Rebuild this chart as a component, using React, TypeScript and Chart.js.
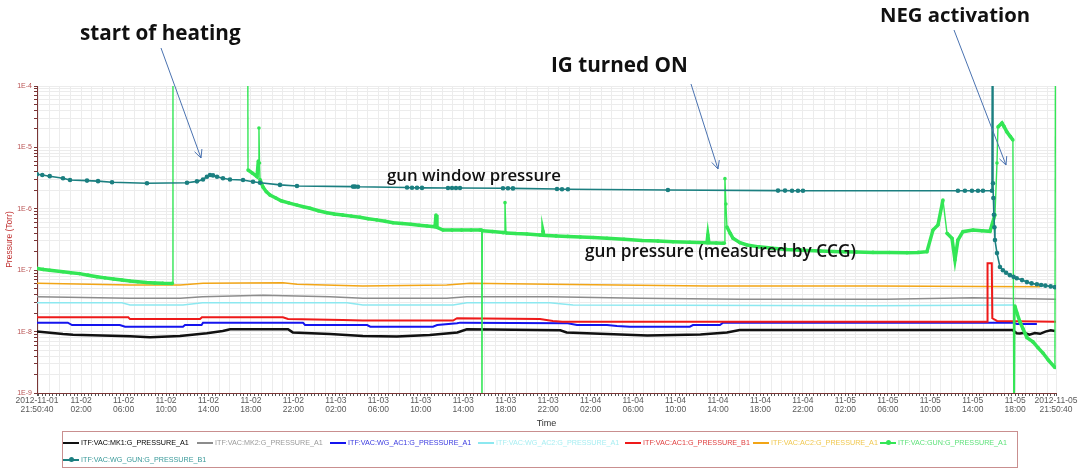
import React, { useEffect, useRef } from 'react';
import { Chart, registerables } from 'chart.js';

Chart.register(...registerables);

// ---------- axis labels ----------
const X_TICK_LABELS: string[][] = [
  ['2012-11-01', '21:50:40'],
  ['11-02', '02:00'], ['11-02', '06:00'], ['11-02', '10:00'], ['11-02', '14:00'], ['11-02', '18:00'], ['11-02', '22:00'],
  ['11-03', '02:00'], ['11-03', '06:00'], ['11-03', '10:00'], ['11-03', '14:00'], ['11-03', '18:00'], ['11-03', '22:00'],
  ['11-04', '02:00'], ['11-04', '06:00'], ['11-04', '10:00'], ['11-04', '14:00'], ['11-04', '18:00'], ['11-04', '22:00'],
  ['11-05', '02:00'], ['11-05', '06:00'], ['11-05', '10:00'], ['11-05', '14:00'], ['11-05', '18:00'],
  ['2012-11-05', '21:50:40'],
];
const X_SPAN_HOURS = 96; // 2012-11-01 21:50:40 -> 2012-11-05 21:50:40
const FIRST_FULL_HOUR = 9.3333 / 60; // 22:00:00 offset from start (hours)
const Y_DECADES = [-9, -8, -7, -6, -5, -4];
const Y_TICK_LABELS = ['1E-9', '1E-8', '1E-7', '1E-6', '1E-5', '1E-4'];
const X_TITLE = 'Time';
const Y_TITLE = 'Pressure (Torr)';

// ---------- series: [hours since start, pressure Torr] ----------
const MK1_A1: [number, number][] = [
  [0, 1.0e-8], [2.45, 9.1e-9], [3.4, 8.9e-9], [8.76, 8.4e-9], [10.65, 8.1e-9], [13.47, 8.5e-9], [16.0, 9.4e-9],
  [17.5, 1.02e-8], [18.2, 1.09e-8], [23.65, 1.09e-8], [24.1, 9.7e-9], [27.6, 9.1e-9], [30.7, 8.5e-9], [33.9, 8.3e-9],
  [37.0, 8.8e-9], [39.6, 9.7e-9], [40.5, 1.09e-8], [49.3, 1.05e-8], [49.9, 9.7e-9], [53.7, 9.1e-9], [57.5, 8.6e-9],
  [62.5, 9.0e-9], [65.0, 9.7e-9], [66.2, 1.06e-8], [91.9, 1.06e-8], [92.3, 9.4e-9], [92.6, 9.3e-9], [93.0, 9.6e-9],
  [93.5, 8.9e-9], [94.0, 9.5e-9], [94.5, 9.2e-9], [95.0, 1.0e-8], [95.5, 1.05e-8], [95.9, 1.02e-8],
];
const MK2_A1: [number, number][] = [
  [0, 3.7e-8], [8.76, 3.5e-8], [13.5, 3.5e-8], [15.6, 3.7e-8], [21.3, 3.9e-8], [27.6, 3.7e-8], [30.7, 3.5e-8],
  [38.6, 3.5e-8], [40.5, 3.7e-8], [48.3, 3.7e-8], [56.8, 3.5e-8], [66.2, 3.36e-8], [80, 3.36e-8], [88.2, 3.56e-8],
  [96, 3.36e-8],
];
const WG_AC1_A1: [number, number][] = [
  [0, 1.4e-8], [2.9, 1.4e-8], [3.3, 1.28e-8], [7.8, 1.28e-8], [8.3, 1.2e-8], [13.75, 1.2e-8], [13.94, 1.28e-8],
  [15.5, 1.28e-8], [15.64, 1.4e-8], [25.06, 1.4e-8], [25.25, 1.28e-8], [31.1, 1.28e-8], [31.4, 1.2e-8], [37.3, 1.2e-8],
  [37.7, 1.28e-8], [39.57, 1.37e-8], [39.85, 1.4e-8], [50.0, 1.37e-8], [50.87, 1.28e-8], [53.7, 1.28e-8],
  [54.64, 1.23e-8], [55.86, 1.2e-8], [61.5, 1.2e-8], [61.8, 1.28e-8], [64.34, 1.28e-8], [64.63, 1.4e-8],
  [91.94, 1.4e-8], [92.32, 1.33e-8], [94.2, 1.33e-8],
];
const WG_AC2_A1: [number, number][] = [
  [0, 2.96e-8], [8.0, 2.96e-8], [8.76, 2.71e-8], [13.75, 2.71e-8], [15.6, 2.96e-8], [29.2, 2.96e-8], [30.7, 2.71e-8],
  [39.2, 2.71e-8], [40.5, 2.96e-8], [48.3, 2.96e-8], [50.5, 2.71e-8], [78.8, 2.64e-8], [92.1, 2.71e-8],
];
const AC1_B1: [number, number][] = [
  [0, 1.71e-8], [8.6, 1.71e-8], [8.76, 1.6e-8], [15.36, 1.6e-8], [15.54, 1.71e-8], [23.17, 1.71e-8], [23.65, 1.6e-8],
  [28.8, 1.55e-8], [30.7, 1.51e-8], [39.2, 1.51e-8], [39.57, 1.65e-8], [47.39, 1.6e-8], [48.6, 1.49e-8],
  [49.5, 1.45e-8], [89.5, 1.45e-8], [89.55, 1.3e-7], [89.95, 1.3e-7], [90.0, 1.65e-8], [90.44, 1.49e-8],
  [96, 1.45e-8],
];
const AC2_A1: [number, number][] = [
  [0, 6.12e-8], [8.76, 5.74e-8], [13.5, 5.74e-8], [15.64, 6.12e-8], [23.17, 6.26e-8], [24.5, 5.89e-8],
  [30.7, 5.53e-8], [38.6, 5.74e-8], [40.8, 6.12e-8], [48.3, 5.89e-8], [63.1, 5.53e-8], [78.8, 5.53e-8],
  [94.5, 5.4e-8],
];
const GUN_A1: [number, number][] = [
  [0, 1.07e-7], [0.6, 1.03e-7], [1.2, 1.0e-7], [2.45, 9.46e-8], [3.2, 9.1e-8], [4, 8.8e-8], [4.8, 8.3e-8],
  [5.65, 7.84e-8], [6.4, 7.5e-8], [7.2, 7.2e-8], [8.0, 6.9e-8], [8.76, 6.67e-8], [9.5, 6.5e-8], [10.3, 6.3e-8],
  [11.1, 6.2e-8], [11.87, 6.12e-8], [12.75, 6.1e-8], [12.81, 1e-3], [19.85, 1e-3], [19.88, 4.29e-6],
  [20.3, 3.8e-6], [20.73, 3.33e-6], [20.85, 6e-6], [20.91, 2.07e-5], [20.96, 5.57e-6], [21.01, 3.0e-6],
  [21.29, 2.26e-6], [21.6, 1.9e-6], [21.95, 1.68e-6], [22.5, 1.5e-6], [23, 1.35e-6], [23.7, 1.25e-6],
  [24.49, 1.15e-6], [25.1, 1.08e-6], [25.72, 1.02e-6], [26.5, 9.3e-7], [27.32, 8.63e-7], [28.0, 8.2e-7],
  [28.8, 7.9e-7], [29.6, 7.6e-7], [30.43, 7.27e-7], [31.2, 6.9e-7], [32, 6.6e-7], [32.8, 6.25e-7],
  [33.54, 5.94e-7], [34.4, 5.75e-7], [35.2, 5.6e-7], [36.0, 5.4e-7], [36.74, 5.25e-7], [37.5, 5.1e-7],
  [37.59, 7.93e-7], [37.68, 5.0e-7], [38.25, 4.51e-7], [39.1, 4.5e-7], [40, 4.5e-7], [40.9, 4.5e-7],
  [41.73, 4.51e-7], [41.9, 4.5e-7], [41.92, 1e-10], [41.95, 4.4e-7], [42.9, 4.25e-7], [43.9, 4.1e-7],
  [44.0, 4.1e-7], [44.09, 1.26e-6], [44.18, 4.05e-7], [45.1, 3.95e-7], [46.16, 3.89e-7], [47.39, 3.74e-7],
  [47.6, 3.74e-7], [47.67, 4.3e-7], [47.75, 3.7e-7], [48.9, 3.62e-7], [50, 3.55e-7], [51.2, 3.48e-7],
  [52.4, 3.4e-7], [53.7, 3.31e-7], [55.3, 3.18e-7], [57, 3.05e-7], [58.5, 2.98e-7], [59.92, 2.91e-7],
  [61.5, 2.86e-7], [63.12, 2.81e-7], [63.2, 3.74e-7], [63.3, 2.8e-7], [64.0, 2.77e-7], [64.63, 2.74e-7],
  [64.75, 2.74e-7], [64.81, 3.1e-6], [64.9, 1.2e-6], [65.0, 5.05e-7], [65.3, 4.0e-7], [65.57, 3.31e-7],
  [66.23, 2.8e-7], [66.89, 2.57e-7], [68.0, 2.4e-7], [69.34, 2.27e-7], [70.6, 2.18e-7], [72, 2.12e-7],
  [73.8, 2.05e-7], [75.65, 2.0e-7], [77.2, 1.97e-7], [78.76, 1.95e-7], [80.3, 1.94e-7], [81.96, 1.93e-7],
  [83.0, 1.95e-7], [83.84, 2.0e-7], [84.41, 4.51e-7], [84.88, 5.45e-7], [85.35, 1.39e-6], [85.73, 4.0e-7],
  [86.2, 3.31e-7], [86.48, 1.47e-7], [86.76, 3.1e-7], [87.23, 4.24e-7], [88.18, 4.51e-7], [89.0, 4.4e-7],
  [89.78, 4.3e-7], [90.25, 8.0e-7], [90.44, 5.57e-6], [90.53, 2.15e-5], [90.91, 2.49e-5], [91.1, 2.2e-5],
  [91.38, 1.78e-5], [91.7, 1.5e-5], [91.94, 1.32e-5], [92.04, 1e-10], [92.13, 2.6e-8], [92.32, 2.01e-8],
  [92.6, 1.45e-8], [92.9, 1.1e-8], [93.26, 8.0e-9], [93.83, 6.8e-9], [94.3, 5.5e-9], [94.77, 4.48e-9],
  [95.3, 3.4e-9], [95.9, 2.6e-9], [95.95, 1e-3],
];
const WG_GUN_B1: [number, number][] = [
  [0, 3.65e-6], [0.5, 3.55e-6], [1.2, 3.4e-6], [2.45, 3.14e-6], [3.11, 2.94e-6], [4.71, 2.88e-6], [5.75, 2.82e-6],
  [7.07, 2.7e-6], [10.36, 2.6e-6], [14.13, 2.65e-6], [15.07, 2.8e-6], [15.64, 3.0e-6], [16.01, 3.33e-6],
  [16.3, 3.55e-6], [16.58, 3.5e-6], [16.96, 3.33e-6], [17.52, 3.14e-6], [18.18, 3.0e-6], [19.41, 2.94e-6],
  [20.35, 2.75e-6], [21.01, 2.66e-6], [22.89, 2.45e-6], [24.49, 2.35e-6], [29.77, 2.3e-6], [29.96, 2.3e-6],
  [30.24, 2.29e-6], [34.86, 2.22e-6], [35.33, 2.2e-6], [35.8, 2.2e-6], [36.27, 2.19e-6], [38.72, 2.18e-6],
  [39.1, 2.18e-6], [39.47, 2.18e-6], [39.85, 2.18e-6], [43.9, 2.16e-6], [44.37, 2.16e-6], [44.84, 2.15e-6],
  [48.99, 2.1e-6], [49.46, 2.08e-6], [50.02, 2.08e-6], [59.44, 2.02e-6], [69.81, 1.98e-6], [70.47, 1.98e-6],
  [71.13, 1.97e-6], [71.69, 1.97e-6], [72.16, 1.97e-6], [86.76, 1.97e-6], [87.42, 1.97e-6], [88.08, 1.97e-6],
  [88.65, 1.97e-6], [89.12, 1.97e-6], [89.97, 1.97e-6], [90.0, 1e-3], [90.06, 2.6e-6], [90.1, 1.5e-6],
  [90.15, 8e-7], [90.2, 5e-7], [90.25, 3.1e-7], [90.44, 1.9e-7], [90.72, 1.13e-7], [91.0, 1.0e-7],
  [91.3, 9.1e-8], [91.66, 8.3e-8], [92.0, 7.8e-8], [92.3, 7.4e-8], [92.8, 6.9e-8], [93.26, 6.4e-8],
  [93.7, 6.1e-8], [94.2, 5.9e-8], [94.6, 5.75e-8], [95.0, 5.6e-8], [95.5, 5.45e-8], [95.9, 5.3e-8],
];

const SERIES = [
  { label: 'ITF:VAC:MK1:G_PRESSURE_A1', data: MK1_A1, color: '#111111', text: '#000000', width: 2.5, radius: 0, order: 3 },
  { label: 'ITF:VAC:MK2:G_PRESSURE_A1', data: MK2_A1, color: '#8c8c8c', text: '#9a9a9a', width: 1.5, radius: 0, order: 6 },
  { label: 'ITF:VAC:WG_AC1:G_PRESSURE_A1', data: WG_AC1_A1, color: '#1414ee', text: '#3a3ae0', width: 2, radius: 0, order: 5 },
  { label: 'ITF:VAC:WG_AC2:G_PRESSURE_A1', data: WG_AC2_A1, color: '#8ce8f0', text: '#a8eef2', width: 1.5, radius: 0, order: 7 },
  { label: 'ITF:VAC:AC1:G_PRESSURE_B1', data: AC1_B1, color: '#ee1a1a', text: '#e04040', width: 2, radius: 0, order: 4 },
  { label: 'ITF:VAC:AC2:G_PRESSURE_A1', data: AC2_A1, color: '#f2a516', text: '#f0c850', width: 1.5, radius: 0, order: 8 },
  { label: 'ITF:VAC:GUN:G_PRESSURE_A1', data: GUN_A1, color: '#33e655', text: '#5ee27a', width: 3.5, radius: 1.8, order: 1 },
  { label: 'ITF:VAC:WG_GUN:G_PRESSURE_B1', data: WG_GUN_B1, color: '#1b7f80', text: '#3a9a9a', width: 1.6, radius: 2.3, order: 0 },
];

const LEGEND_ROWS = [[0, 1, 2, 3, 4, 5, 6], [7]];
const LEGEND_LEFT = [[63, 197, 330, 478, 625, 753, 880], [63]];

const ANNOTATIONS = [
  { text: 'start of heating', left: 80, top: 20, size: 20.7, weight: 700 },
  { text: 'IG turned ON', left: 551, top: 52, size: 20.7, weight: 700 },
  { text: 'NEG activation', left: 880, top: 2, size: 20.3, weight: 700 },
  { text: 'gun window pressure', left: 387, top: 164, size: 16.8, weight: 600 },
  { text: 'gun pressure (measured by CCG)', left: 585, top: 240, size: 17.2, weight: 600 },
];
const ARROWS = [
  { from: [161, 48], to: [201, 158] },
  { from: [691, 84], to: [718, 169] },
  { from: [954, 30], to: [1006, 165] },
];

const arrowPlugin = {
  id: 'arrows',
  afterDraw(chart: any) {
    const ctx = chart.ctx;
    ctx.save();
    ctx.strokeStyle = '#4a72b0';
    ctx.lineWidth = 1;
    for (const a of ARROWS) {
      const [x1, y1] = a.from;
      const [x2, y2] = a.to;
      ctx.beginPath();
      ctx.moveTo(x1, y1);
      ctx.lineTo(x2, y2);
      const ang = Math.atan2(y2 - y1, x2 - x1);
      const L = 9;
      ctx.moveTo(x2 - L * Math.cos(ang - 0.45), y2 - L * Math.sin(ang - 0.45));
      ctx.lineTo(x2, y2);
      ctx.lineTo(x2 - L * Math.cos(ang + 0.45), y2 - L * Math.sin(ang + 0.45));
      ctx.stroke();
    }
    ctx.restore();
  },
};

// thin stroke on near-vertical jumps, the dataset's own width elsewhere
const steepThin = (thin: number) => (c: any) => {
  const dx = Math.abs(c.p1.x - c.p0.x);
  const dy = Math.abs(c.p1.y - c.p0.y);
  return dy > 4 * dx + 14 ? thin : undefined;
};

export default function App() {
  const ref = useRef<HTMLCanvasElement>(null);
  useEffect(() => {
    if (!ref.current) return;
    const chart = new Chart(ref.current, {
      type: 'line',
      data: {
        datasets: SERIES.map((s) => ({
          label: s.label,
          data: s.data.map(([x, y]) => ({ x, y })),
          borderColor: s.color,
          backgroundColor: s.color,
          borderWidth: s.width,
          pointRadius: s.radius,
          pointBorderWidth: 0,
          pointBackgroundColor: s.color,
          tension: 0,
          order: s.order,
          fill: false,
          segment: s.radius > 0 && s.width > 2 ? { borderWidth: steepThin(1.4) } : undefined,
        })),
      },
      options: {
        animation: false,
        responsive: false,
        devicePixelRatio: 1,
        layout: { padding: { left: 5, right: 25, top: 86, bottom: 47 } },
        plugins: { legend: { display: false }, tooltip: { enabled: false } },
        scales: {
          x: {
            type: 'linear',
            min: 0,
            max: X_SPAN_HOURS,
            afterBuildTicks: (scale: any) => {
              const ticks: any[] = [{ value: 0, lab: X_TICK_LABELS[0], grid: true }];
              for (let k = 0; FIRST_FULL_HOUR + k / 3 < X_SPAN_HOURS - 0.05; k++) {
                const v = FIRST_FULL_HOUR + k / 3;
                const labelled = k >= 12 && k % 12 === 0;
                ticks.push({
                  value: v,
                  lab: labelled ? X_TICK_LABELS[k / 12] : '',
                  grid: k % 3 === 0,
                  major: labelled,
                });
              }
              ticks.push({ value: X_SPAN_HOURS, lab: X_TICK_LABELS[X_TICK_LABELS.length - 1], grid: true });
              scale.ticks = ticks;
            },
            afterFit: (scale: any) => { scale.height = 36; },
            ticks: {
              autoSkip: false,
              maxRotation: 0,
              minRotation: 0,
              padding: 0,
              color: '#5a5a5a',
              font: { family: 'Liberation Sans', size: 8.5, lineHeight: 1.1 },
              callback: (_v: any, i: number, ticks: any[]) => ticks[i].lab,
            },
            grid: {
              color: (c: any) => (c.tick && c.tick.grid ? '#ececec' : 'rgba(0,0,0,0)'),
              tickColor: '#555',
              tickLength: 3,
              drawTicks: true,
            },
            border: { color: '#7a3535', width: 1 },
            title: { display: true, text: X_TITLE, color: '#333', font: { family: 'Liberation Sans', size: 9 }, padding: 0 },
          },
          y: {
            type: 'logarithmic',
            min: 1e-9,
            max: 1e-4,
            afterBuildTicks: (scale: any) => {
              const ticks: any[] = [];
              Y_DECADES.forEach((e, di) => {
                const last = di === Y_DECADES.length - 1;
                for (let s = 1; s <= (last ? 1 : 9); s++) {
                  ticks.push({ value: s * Math.pow(10, e), major: s === 1, lab: s === 1 ? Y_TICK_LABELS[di] : '' });
                }
              });
              scale.ticks = ticks;
            },
            afterFit: (scale: any) => { scale.width = 32; },
            ticks: {
              autoSkip: false,
              padding: 2,
              color: '#b85050',
              font: { family: 'Liberation Sans', size: 7 },
              callback: (_v: any, i: number, ticks: any[]) => ticks[i].lab,
            },
            grid: { color: '#ececec', tickColor: '#7a3535', tickLength: 3 },
            border: { color: '#7a3535', width: 1 },
            title: { display: true, text: Y_TITLE, color: '#c03030', font: { family: 'Liberation Sans', size: 8.5 }, padding: 0 },
          },
        },
      },
      plugins: [arrowPlugin],
    } as any);
    return () => chart.destroy();
  }, []);

  return (
    <div style={{ position: 'absolute', left: 0, top: 0, width: 1081, height: 476, background: '#fff', overflow: 'hidden' }}>
      <canvas ref={ref} width={1081} height={476} style={{ position: 'absolute', left: 0, top: 0, width: 1081, height: 476 }} />
      {ANNOTATIONS.map((a, i) => (
        <div
          key={i}
          style={{
            position: 'absolute', left: a.left, top: a.top, fontFamily: 'Open Sans', fontWeight: a.weight,
            fontSize: a.size, lineHeight: `${Math.round(a.size + 4)}px`, color: '#111', whiteSpace: 'nowrap',
          }}
        >
          {a.text}
        </div>
      ))}
      <div style={{ position: 'absolute', left: 62, top: 431, width: 956, height: 37, border: '1px solid #c98f8f', boxSizing: 'border-box' }} />
      {LEGEND_ROWS.map((row, ri) =>
        row.map((si, j) => {
          const s = SERIES[si];
          const dot = s.radius > 0;
          return (
            <div
              key={`${ri}-${j}`}
              style={{
                position: 'absolute', left: LEGEND_LEFT[ri][j], top: ri === 0 ? 437 : 454, height: 11,
                display: 'flex', alignItems: 'center', whiteSpace: 'nowrap',
              }}
            >
              <div style={{ position: 'relative', width: 16, height: 2, background: s.color, marginRight: 2 }}>
                {dot && (
                  <div style={{ position: 'absolute', left: 6, top: -1.5, width: 5, height: 5, borderRadius: 3, background: s.color }} />
                )}
              </div>
              <span style={{ fontFamily: 'Liberation Sans', fontSize: 7.2, color: s.text }}>{s.label}</span>
            </div>
          );
        })
      )}
    </div>
  );
}
